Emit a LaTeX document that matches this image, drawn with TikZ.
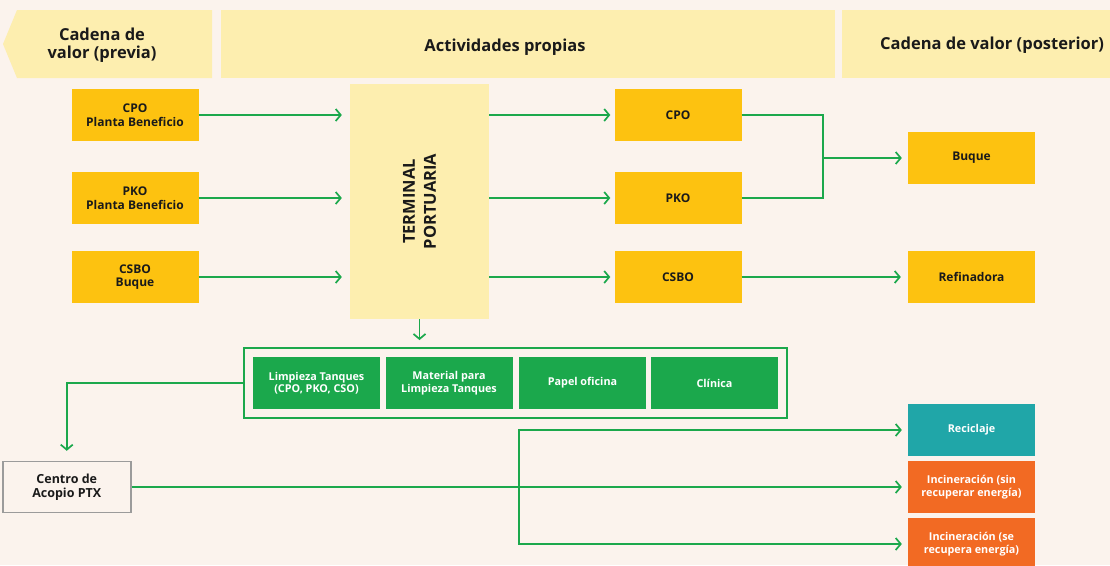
\documentclass[tikz,border=0pt]{standalone}
\usepackage{fontspec}
\setmainfont{Open Sans}
\usetikzlibrary{arrows.meta, positioning, fit}
\definecolor{pbg}{HTML}{FBF3ED}
\definecolor{phead}{HTML}{FDEEAF}
\definecolor{pyellow}{HTML}{FDC210}
\definecolor{pgreen}{HTML}{1BA84C}
\definecolor{pteal}{HTML}{20A6A8}
\definecolor{porange}{HTML}{F26A23}
\definecolor{pgray}{HTML}{9B9B9B}
\definecolor{pink}{HTML}{1A1A1A}

\begin{document}
\begin{tikzpicture}[x=1pt, y=-1pt,
  box/.style={rectangle, fill=#1, minimum width=127pt, minimum height=52pt,
    inner sep=2pt, align=center, text=pink, font=\fontsize{12}{13.5}\selectfont\bfseries},
  waste/.style={box=#1, text=white, font=\fontsize{10.8}{12.5}\selectfont\bfseries},
  head/.style={font=\fontsize{16.5}{18}\selectfont\bfseries, text=pink, align=center},
  flow/.style={draw=pgreen, line width=1.7pt, -{Straight Barb[length=5pt,width=12pt]},
    shorten >=6pt},
  wire/.style={draw=pgreen, line width=1.7pt},
]
  \useasboundingbox (0,0) rectangle (1110,565);
  \clip (0,0) rectangle (1110,565);
  \fill[pbg] (0,0) rectangle (1110,565);

  % column headers
  \fill[phead] (3,44) -- (17,10) -- (212,10) -- (212,78) -- (17,78) -- cycle;
  \fill[phead] (221,10) rectangle (835,78);
  \fill[phead] (842,10) rectangle (1142,78);
  \node[head] (hprev) at (102,45) {Cadena de\\valor (previa)};
  \node[head] (hown) at (505,47) {Actividades propias};
  \node[head] (hpost) at (992,45) {Cadena de valor (posterior)};

  % inputs
  \node[box=pyellow] (cpoIn) at (135,115) {CPO\\Planta Beneficio};
  \node[box=pyellow] (pkoIn) at (135,198) {PKO\\Planta Beneficio};
  \node[box=pyellow] (csboIn) at (135,277) {CSBO\\Buque};

  \node[rectangle, fill=phead, minimum width=235pt, minimum height=139pt,
    rotate=90, align=center, text=pink, font=\fontsize{16.5}{21}\selectfont\bfseries]
    (term) at (419.5,201.5) {TERMINAL\\PORTUARIA};

  % outputs
  \node[box=pyellow] (cpoOut) at (678,115) {CPO};
  \node[box=pyellow] (pkoOut) at (678,198) {PKO};
  \node[box=pyellow] (csboOut) at (678,277) {CSBO};
  \node[box=pyellow] (buque) at (971.5,158) {Buque};
  \node[box=pyellow] (refin) at (971.5,277) {Refinadora};

  % waste streams
  \node[waste=pgreen] (w1) at (316.5,383) {Limpieza Tanques\\(CPO, PKO, CSO)};
  \node[waste=pgreen] (w2) at (449,383) {Material para\\Limpieza Tanques};
  \node[waste=pgreen] (w3) at (582.5,383) {Papel oficina};
  \node[waste=pgreen] (w4) at (714.5,383) {Clínica};
  \node[fit=(w1)(w4), inner sep=9pt, draw=pgreen, line width=1.5pt] (wgroup) {};

  \node[box=pbg, draw=pgray, line width=1.5pt, minimum width=128pt, minimum height=51pt,
    font=\fontsize{12.5}{14.5}\selectfont\bfseries]
    (acopio) at (66.75,487) {Centro de\\Acopio PTX};

  \node[waste=pteal] (recic) at (971.5,430) {Reciclaje};
  \node[waste=porange] (incsin) at (971.5,487) {Incineración (sin\\recuperar energía)};
  \node[waste=porange] (incse) at (971.5,544) {Incineración (se\\recupera energía)};

  % connectors
  \draw[flow, shorten >=8pt] (cpoIn) -- (cpoIn -| term.north);
  \draw[flow, shorten >=8pt] (pkoIn) -- (pkoIn -| term.north);
  \draw[flow, shorten >=8pt] (csboIn) -- (csboIn -| term.north);
  \draw[flow, shorten >=4pt] (cpoOut -| term.south) -- (cpoOut);
  \draw[flow, shorten >=4pt] (pkoOut -| term.south) -- (pkoOut);
  \draw[flow, shorten >=4pt] (csboOut -| term.south) -- (csboOut);

  \coordinate (join) at (823,158);
  \draw[wire] (cpoOut.east) -| (join) |- (pkoOut.east);
  \draw[flow] (join) -- (buque);
  \draw[flow, shorten >=7pt] (csboOut) -- (refin);

  \draw[flow, shorten >=7pt] (term.west) -- (term.west |- wgroup.north);
  \draw[flow, shorten >=10pt] (wgroup.west) -| (acopio.north);

  \coordinate (split) at (518.7,487);
  \draw[flow] (acopio.east) -- (incsin.west);
  \draw[flow] (split) |- (recic.west);
  \draw[flow] (split) |- (incse.west);
\end{tikzpicture}
\end{document}
